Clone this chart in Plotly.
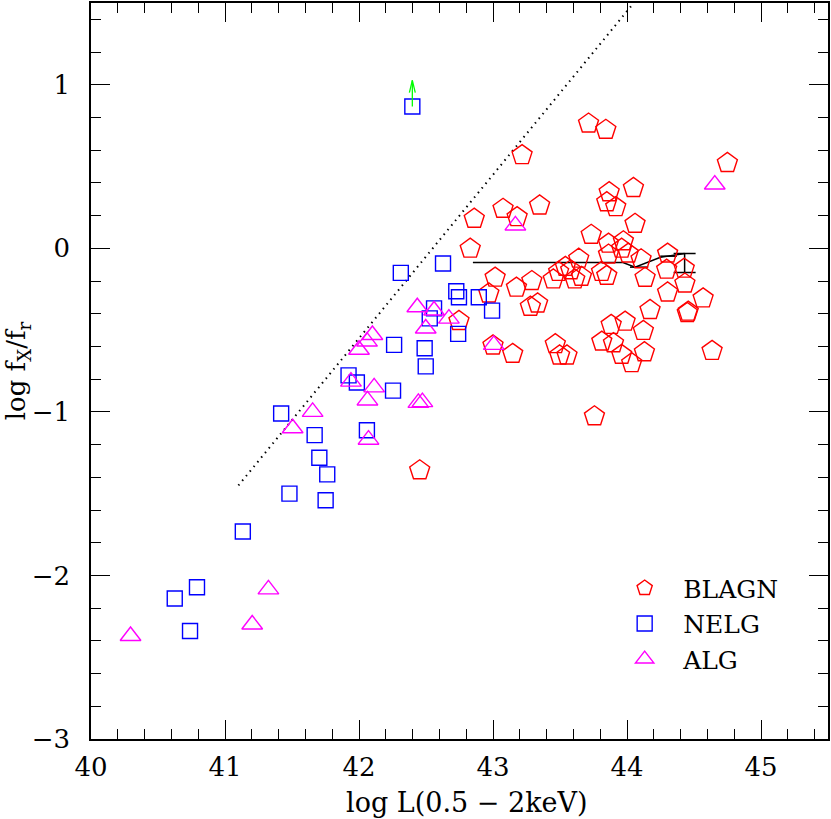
import plotly.graph_objects as go

# ---------------- data ----------------
blagn_x = [43.217, 43.075, 43.18, 43.348, 42.86, 42.83, 43.016, 43.175, 43.29, 42.969,
           43.45, 43.49, 43.54, 43.58, 43.64, 43.66, 43.61,
           43.713, 43.842, 44.749, 43.867, 44.048, 43.849, 43.916, 44.06, 43.733,
           43.862, 43.973, 43.96, 43.862, 44.01, 44.105, 43.81, 43.849, 44.135,
           44.303, 44.296, 44.427, 44.432, 44.303, 44.568, 44.457, 44.45, 44.172,
           43.986, 43.882, 44.122, 43.812, 43.899, 43.96, 44.035, 44.13, 44.635,
           43.757, 43.465, 43.497, 43.552, 43.279, 43.333, 42.746, 43.0, 43.147,
           42.453]
blagn_y = [0.570, 0.242, 0.191, 0.262, 0.181, -0.002, -0.179, -0.24, -0.20, -0.276,
           -0.19, -0.144, -0.113, -0.134, -0.063, -0.174, -0.19,
           0.763, 0.725, 0.522, 0.343, 0.369, 0.282, 0.252, 0.15, 0.083,
           0.029, 0.043, -0.002, -0.038, -0.032, -0.067, -0.144, -0.168, -0.18,
           -0.032, -0.13, -0.124, -0.215, -0.27, -0.306, -0.387, -0.395, -0.377,
           -0.448, -0.468, -0.505, -0.57, -0.58, -0.651, -0.702, -0.635, -0.627,
           -1.027, -0.586, -0.655, -0.655, -0.357, -0.337, -0.444, -0.594, -0.645,
           -1.357]

nelg_x = [42.398, 42.627, 42.312, 42.726, 42.746, 42.894, 42.56, 42.993, 42.528, 42.74,
          42.262, 42.49, 42.498, 42.254, 41.922, 41.984, 41.419, 41.669, 42.059, 41.704,
          41.763, 41.481, 41.751, 41.133, 40.791, 40.625, 40.739]
nelg_y = [0.867, -0.093, -0.15, -0.262, -0.299, -0.299, -0.367, -0.381, -0.428, -0.523,
          -0.59, -0.611, -0.722, -0.87, -0.777, -0.82, -1.01, -1.142, -1.112, -1.28,
          -1.382, -1.5, -1.54, -1.731, -2.072, -2.141, -2.34]

alg_x = [43.167, 44.655, 42.435, 42.56, 42.671, 42.498, 43.006, 42.443, 42.473, 42.0,
         42.06, 42.1, 41.94, 42.113, 42.063, 41.654, 41.505, 42.071, 41.324, 41.203,
         40.295]
alg_y = [0.14, 0.39, -0.36, -0.38, -0.43, -0.49, -0.59, -0.945, -0.94, -0.62,
         -0.57, -0.53, -0.815, -0.85, -0.93, -1.0, -1.10, -1.17, -2.085, -2.30,
         -2.37]

# upper-limit point (green arrow)
limit_x = [42.398]
limit_y = [0.867]

# dotted relation line
dot_x = [41.1, 44.05]
dot_y = [-1.45, 1.5]

# binned mean line
bin_x = [42.85, 43.97, 44.06, 44.25, 44.43]
bin_y = [-0.087, -0.087, -0.115, -0.055, -0.032]
binx_err_x = [44.09, 44.31]
binx_err_y = [-0.115, -0.048]
binx_err = [0.068, 0.062]
last_err_x = [44.43]
last_err_y = [-0.032]
last_err_minus = [0.116]

FONT = "DejaVu Serif"

fig = go.Figure()

fig.add_trace(go.Scatter(x=dot_x, y=dot_y, mode="lines",
                         line=dict(color="black", width=2, dash="1.5px,4.5px"),
                         showlegend=False, hoverinfo="skip"))

fig.add_trace(go.Scatter(x=bin_x, y=bin_y, mode="lines",
                         line=dict(color="black", width=1.5),
                         showlegend=False, hoverinfo="skip"))
fig.add_trace(go.Scatter(x=binx_err_x, y=binx_err_y, mode="markers",
                         marker=dict(size=1, color="rgba(0,0,0,0)"),
                         error_x=dict(type="data", array=binx_err, color="black",
                                      thickness=1.5, width=0),
                         showlegend=False, hoverinfo="skip"))
fig.add_trace(go.Scatter(x=last_err_x, y=last_err_y, mode="markers",
                         marker=dict(size=1, color="rgba(0,0,0,0)"),
                         error_y=dict(type="data", symmetric=False, array=[0],
                                      arrayminus=last_err_minus, color="black",
                                      thickness=1.5, width=11),
                         showlegend=False, hoverinfo="skip"))

fig.add_trace(go.Scatter(x=blagn_x, y=blagn_y, mode="markers", name="BLAGN",
                         marker=dict(symbol="pentagon-open", size=21, color="#ff0000",
                                     line=dict(width=1.4, color="#ff0000"))))
fig.add_trace(go.Scatter(x=nelg_x, y=nelg_y, mode="markers", name="NELG",
                         marker=dict(symbol="square-open", size=15, color="#0000ff",
                                     line=dict(width=1.4, color="#0000ff"))))
fig.add_trace(go.Scatter(x=alg_x, y=alg_y, mode="markers", name="ALG",
                         marker=dict(symbol="triangle-up-open", size=18, color="#ff00ff",
                                     line=dict(width=1.4, color="#ff00ff"))))

# green upper-limit arrow built from the limit point
arr_len = 0.16
head_h = 0.075
head_w = 0.022
ax_pts, ay_pts = [], []
for lx, ly in zip(limit_x, limit_y):
    top = ly + arr_len
    ax_pts += [lx, lx, None, lx - head_w, lx, lx + head_w, None]
    ay_pts += [ly, top, None, top - head_h, top, top - head_h, None]
fig.add_trace(go.Scatter(x=ax_pts, y=ay_pts, mode="lines",
                         line=dict(color="#00ff00", width=1.3),
                         showlegend=False, hoverinfo="skip"))

axis_common = dict(
    showline=True, linecolor="black", linewidth=1.5, mirror="allticks",
    ticks="inside", ticklen=19, tickwidth=1.3, tickcolor="black",
    showgrid=False, zeroline=False,
    tickfont=dict(family=FONT, size=26, color="black"),
)

fig.update_xaxes(range=[40, 45.5], dtick=1, tick0=40,
                 minor=dict(dtick=0.2, ticks="inside", ticklen=10, tickwidth=1.2,
                            tickcolor="black", showgrid=False),
                 ticklabelstandoff=4,
                 **axis_common)
fig.update_yaxes(range=[-3, 1.5], dtick=1, tick0=0,
                 minor=dict(dtick=0.2, ticks="inside", ticklen=10, tickwidth=1.2,
                            tickcolor="black", showgrid=False),
                 ticklabelstandoff=14,
                 **axis_common)

fig.add_annotation(text="log L(0.5 \u2212 2keV)", xref="paper", yref="paper",
                   x=0.51, y=-0.062, xanchor="center", yanchor="top", showarrow=False,
                   font=dict(family=FONT, size=27, color="black"))
fig.add_annotation(text="log f<sub>X</sub>/f<sub>r</sub>", xref="paper", yref="paper",
                   x=-0.1, y=0.5, xanchor="center", yanchor="middle", showarrow=False,
                   textangle=-90, font=dict(family=FONT, size=26, color="black"))

fig.update_layout(
    width=831, height=819,
    margin=dict(l=91, r=1, t=1, b=80),
    paper_bgcolor="white", plot_bgcolor="white",
    legend=dict(x=0.699, y=0.236, xanchor="left", yanchor="top",
                bgcolor="rgba(0,0,0,0)", borderwidth=0,
                font=dict(family=FONT, size=25, color="black"),
                itemsizing="trace", itemwidth=67, tracegroupgap=0),
    showlegend=True,
)

fig.write_html("out.html", config={"displayModeBar": False},
               post_script="document.body.style.margin='0';")
